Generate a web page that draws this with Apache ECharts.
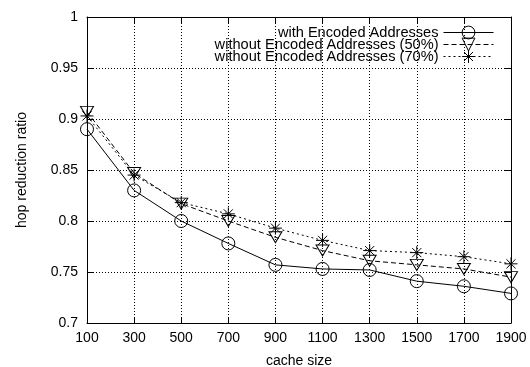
<!DOCTYPE html>
<html><head><meta charset="utf-8">
<script src="https://cdn.jsdelivr.net/npm/echarts@6/dist/echarts.min.js"></script>
<style>html,body{margin:0;padding:0;background:#fff}#c{width:530px;height:367px}</style>
</head><body><div id="c"></div>
<script>
const categories = ['100','300','500','700','900','1100','1300','1500','1700','1900'];
const withEncoded = [0.890, 0.830, 0.800, 0.778, 0.757, 0.753, 0.752, 0.741, 0.736, 0.729];
const without50 = [0.907, 0.847, 0.817, 0.800, 0.784, 0.771, 0.761, 0.757, 0.753, 0.745];
const without70 = [0.903, 0.845, 0.818, 0.807, 0.793, 0.781, 0.771, 0.769, 0.765, 0.758];
const seriesNames = ['with Encoded Addresses','without Encoded Addresses (50%)','without Encoded Addresses (70%)'];
const yTicks = {min:0.7, max:1, interval:0.05};

const FONT = 'Liberation Sans';
const chart = echarts.init(document.getElementById('c'));
const triDown = 'path://M0,0L10,0L5,8.66Z';
const star = 'path://M5,0L5,10M0,5L10,5M1.5,1.5L8.5,8.5M8.5,1.5L1.5,8.5';
const mkLegend = (name, top) => ({
  data:[name], orient:'vertical', align:'right', right:36, top:top, padding:0,
  itemWidth:50, itemHeight:16, itemGap:0,
  lineStyle:{width:1},
  itemStyle:{borderWidth:1},
  textStyle:{fontFamily:FONT, fontSize:14.6, color:'#000', padding:[0,0,0,0]},
  selectedMode:false
});
chart.setOption({
  animation:false,
  backgroundColor:'#fff',
  textStyle:{fontFamily:FONT},
  grid:{left:87, right:19, top:17, bottom:44, containLabel:false, outerBoundsMode:'none'},
  legend:[mkLegend(seriesNames[0],25), mkLegend(seriesNames[1],37), mkLegend(seriesNames[2],49)],
  xAxis:[{
    type:'category', data:categories, boundaryGap:false,
    name:'cache size', nameLocation:'middle', nameGap:31,
    nameTextStyle:{fontFamily:FONT, fontSize:14, color:'#000'},
    axisLine:{lineStyle:{color:'#000', width:1}},
    axisTick:{inside:true, length:6, lineStyle:{color:'#000'}},
    axisLabel:{fontFamily:FONT, fontSize:14, color:'#000', margin:8},
    splitLine:{show:true, lineStyle:{color:'#000', width:1, type:[1,2]}}
  },{
    type:'category', data:categories, boundaryGap:false, position:'top',
    axisLine:{lineStyle:{color:'#000', width:1}},
    axisTick:{inside:true, length:6, lineStyle:{color:'#000'}},
    axisLabel:{show:false}, splitLine:{show:false}
  }],
  yAxis:[{
    type:'value', min:yTicks.min, max:yTicks.max, interval:yTicks.interval,
    name:'hop reduction ratio', nameLocation:'middle', nameGap:58, nameRotate:90,
    nameTextStyle:{fontFamily:FONT, fontSize:14, color:'#000'},
    axisLine:{show:true, lineStyle:{color:'#000', width:1}},
    axisTick:{show:true, inside:true, length:6, lineStyle:{color:'#000'}},
    axisLabel:{fontFamily:FONT, fontSize:14, color:'#000', margin:9,
      formatter:v=>String(parseFloat(v.toFixed(2)))},
    splitLine:{show:true, lineStyle:{color:'#000', width:1, type:[1,2]}}
  },{
    type:'value', min:yTicks.min, max:yTicks.max, interval:yTicks.interval, position:'right',
    axisLine:{show:true, lineStyle:{color:'#000', width:1}},
    axisTick:{show:true, inside:true, length:6, lineStyle:{color:'#000'}},
    axisLabel:{show:false}, splitLine:{show:false}
  }],
  series:[
    {name:seriesNames[0], type:'line', data:withEncoded, symbol:'circle', symbolSize:13,
     lineStyle:{color:'#000', width:1, type:'solid'},
     itemStyle:{color:'rgba(0,0,0,0)', borderColor:'#000', borderWidth:1}},
    {name:seriesNames[1], type:'line', data:without50, symbol:triDown, symbolSize:[13,11],
     lineStyle:{color:'#000', width:1, type:[5,3]},
     itemStyle:{color:'rgba(0,0,0,0)', borderColor:'#000', borderWidth:1}},
    {name:seriesNames[2], type:'line', data:without70, symbol:star, symbolSize:13,
     lineStyle:{color:'#000', width:1, type:[2,3]},
     itemStyle:{color:'rgba(0,0,0,0)', borderColor:'#000', borderWidth:1}}
  ]
});
</script></body></html>
